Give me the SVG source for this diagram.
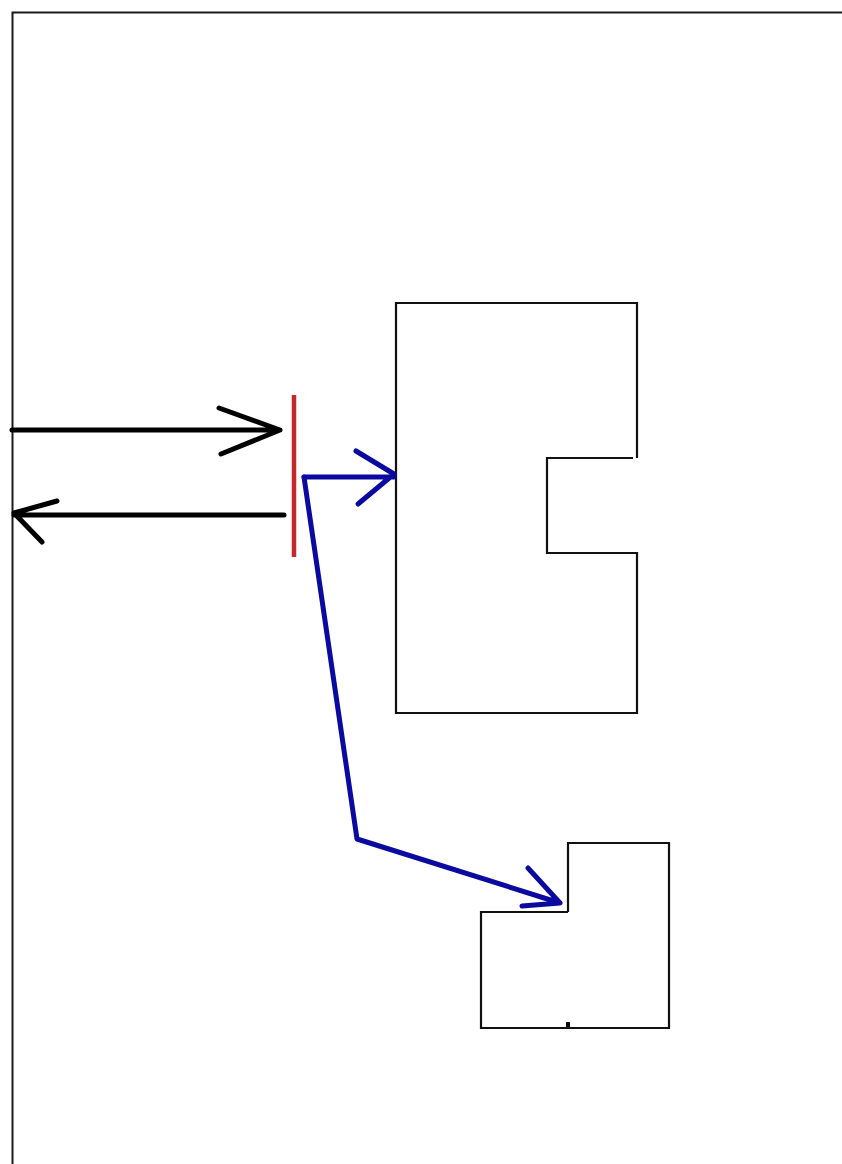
<svg xmlns="http://www.w3.org/2000/svg" width="842" height="1164" viewBox="0 0 842 1164">
<style>
.frame{fill:none;stroke:#1a1a1a;stroke-width:2}
.room{fill:none;stroke:#111;stroke-width:2.2}
.blk{fill:none;stroke:#000;stroke-width:5;stroke-linecap:round;stroke-linejoin:round}
.blu{fill:none;stroke:#0a0aa0;stroke-width:5;stroke-linecap:round;stroke-linejoin:round}
.red{stroke:#c4282a;stroke-width:4.5}
</style>
<rect width="842" height="1164" fill="#fff"/>
<path class="frame" d="M12.5,1164 V12.5 H842"/>
<g id="room-large"><path class="room" d="M637,458 V303 H396 V713 H637 V553 H547 V458 H633"/></g>
<g id="room-small"><path class="room" d="M568,912 V843 H669 V1028 H481 V912 H568"/><rect x="566" y="1022" width="4" height="5" fill="#000"/></g>
<g id="barrier"><line class="red" x1="294" y1="395" x2="294" y2="557"/></g>
<g id="connectors">
<path class="blk" d="M12,430 H280 M219,408 L280,430 L221,454"/>
<path class="blk" d="M284,515 H14 M57,501 L14,513 L42,542"/>
<path class="blu" d="M304,477 H394 M356,451 L394,474 L358,504"/>
<path class="blu" d="M304,477 L357,839 L560,903 M528,868 L560,903 L522,906"/>
</g>
</svg>
